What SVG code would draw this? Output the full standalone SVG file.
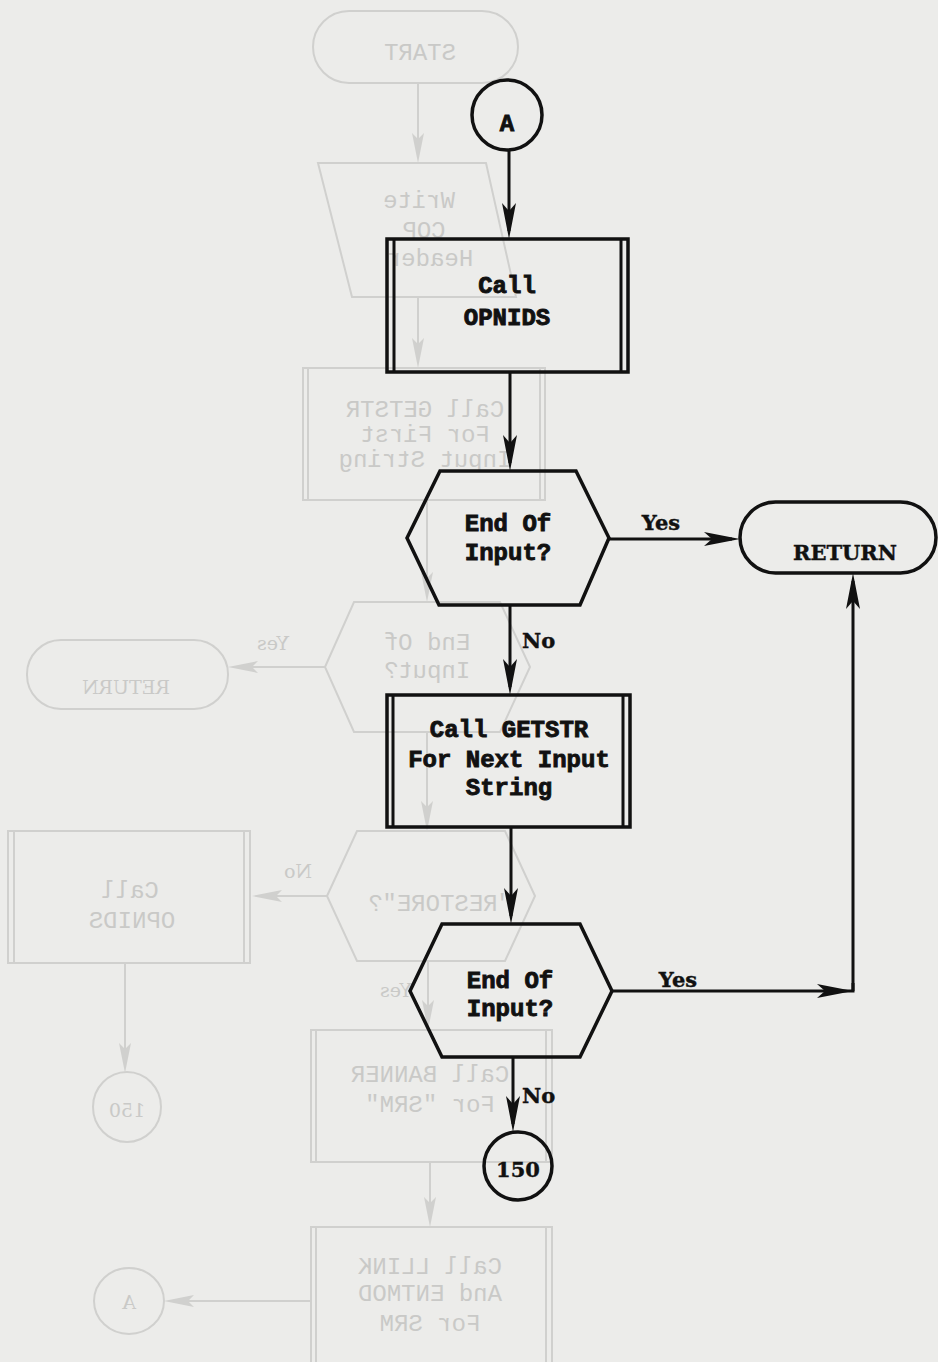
<svg xmlns="http://www.w3.org/2000/svg" width="938" height="1362" viewBox="0 0 938 1362">
<style>
.bg{fill:#ececea}
.sh{fill:none;stroke:#111;stroke-width:3.5;stroke-linejoin:miter}
.ln{fill:none;stroke:#111;stroke-width:3}
.tt{font-family:"Liberation Mono","DejaVu Sans Mono",monospace;font-size:24px;font-weight:bold;fill:#111;stroke:#111;stroke-width:0.9;text-anchor:middle}
.lb{font-family:"DejaVu Serif","Liberation Serif",serif;font-size:21px;font-weight:bold;fill:#111;stroke:#111;stroke-width:0.4}
.gs{fill:none;stroke:#d0d0ce;stroke-width:2}
.gt{font-family:"Liberation Mono","DejaVu Sans Mono",monospace;font-size:24px;fill:#c9c9c7;text-anchor:middle}
.gl{font-family:"DejaVu Serif","Liberation Serif",serif;font-size:19px;fill:#c9c9c7;text-anchor:middle}
</style>
<defs>
<marker id="arr" viewBox="-30 -8 40 16" markerWidth="40" markerHeight="16" refX="0" refY="0" orient="auto" markerUnits="userSpaceOnUse">
<path d="M8,0 L-28,-7 L-20,0 L-28,7 Z" fill="#111"/>
</marker>
<marker id="garr" viewBox="-30 -8 40 16" markerWidth="40" markerHeight="16" refX="0" refY="0" orient="auto" markerUnits="userSpaceOnUse">
<path d="M8,0 L-22,-6 L-16,0 L-22,6 Z" fill="#d0d0ce"/>
</marker>
</defs>
<rect class="bg" x="0" y="0" width="938" height="1362"/>

<g id="bleed-through">
<rect class="gs" x="313" y="11" width="205" height="72" rx="36"/>
<text class="gt" x="420" y="60" transform="matrix(-1 0 0 1 840 0)">START</text>
<line class="gs" x1="418" y1="83" x2="418" y2="155" marker-end="url(#garr)"/>
<polygon class="gs" points="318,163 486,163 516,297 352,297"/>
<text class="gt" x="419" y="208" transform="matrix(-1 0 0 1 838 0)">Write</text>
<text class="gt" x="424" y="238" transform="matrix(-1 0 0 1 848 0)">COP</text>
<text class="gt" x="430" y="266" transform="matrix(-1 0 0 1 860 0)">Header</text>
<line class="gs" x1="418" y1="297" x2="418" y2="360" marker-end="url(#garr)"/>
<rect class="gs" x="303" y="368" width="242" height="132"/>
<line class="gs" x1="308" y1="368" x2="308" y2="500"/>
<line class="gs" x1="540" y1="368" x2="540" y2="500"/>
<text class="gt" x="425" y="417" transform="matrix(-1 0 0 1 850 0)">Call GETSTR</text>
<text class="gt" x="425" y="442" transform="matrix(-1 0 0 1 850 0)">For First</text>
<text class="gt" x="425" y="467" transform="matrix(-1 0 0 1 850 0)">Input String</text>
<line class="gs" x1="427" y1="500" x2="427" y2="594" marker-end="url(#garr)"/>
<polygon class="gs" points="325,667 354,602 500,602 530,667 500,732 354,732"/>
<text class="gt" x="427" y="650" transform="matrix(-1 0 0 1 854 0)">End Of</text>
<text class="gt" x="427" y="678" transform="matrix(-1 0 0 1 854 0)">Input?</text>
<line class="gs" x1="325" y1="667" x2="236" y2="667" marker-end="url(#garr)"/>
<text class="gl" x="273" y="650" transform="matrix(-1 0 0 1 546 0)">Yes</text>
<rect class="gs" x="27" y="640" width="201" height="69" rx="34"/>
<text class="gl" x="126" y="694" transform="matrix(-1 0 0 1 252 0)">RETURN</text>
<line class="gs" x1="427" y1="732" x2="427" y2="823" marker-end="url(#garr)"/>
<polygon class="gs" points="327,896 357,831 505,831 535,896 505,961 357,961"/>
<text class="gt" x="440" y="911" transform="matrix(-1 0 0 1 880 0)">"RESTORE"?</text>
<line class="gs" x1="327" y1="896" x2="260" y2="896" marker-end="url(#garr)"/>
<text class="gl" x="298" y="878" transform="matrix(-1 0 0 1 596 0)">No</text>
<rect class="gs" x="8" y="831" width="242" height="132"/>
<line class="gs" x1="14" y1="831" x2="14" y2="963"/>
<line class="gs" x1="244" y1="831" x2="244" y2="963"/>
<text class="gt" x="130" y="898" transform="matrix(-1 0 0 1 260 0)">Call</text>
<text class="gt" x="132" y="928" transform="matrix(-1 0 0 1 264 0)">OPNIDS</text>
<line class="gs" x1="125" y1="963" x2="125" y2="1065" marker-end="url(#garr)"/>
<ellipse class="gs" cx="127" cy="1107" rx="34" ry="35"/>
<text class="gl" x="127" y="1117" transform="matrix(-1 0 0 1 254 0)">150</text>
<line class="gs" x1="428" y1="961" x2="428" y2="1022" marker-end="url(#garr)"/>
<text class="gl" x="396" y="997" transform="matrix(-1 0 0 1 792 0)">Yes</text>
<rect class="gs" x="311" y="1030" width="241" height="132"/>
<line class="gs" x1="316" y1="1030" x2="316" y2="1162"/>
<line class="gs" x1="546" y1="1030" x2="546" y2="1162"/>
<text class="gt" x="430" y="1082" transform="matrix(-1 0 0 1 860 0)">Call BANNER</text>
<text class="gt" x="430" y="1112" transform="matrix(-1 0 0 1 860 0)">For "SRM"</text>
<line class="gs" x1="430" y1="1162" x2="430" y2="1219" marker-end="url(#garr)"/>
<rect class="gs" x="311" y="1227" width="241" height="145"/>
<line class="gs" x1="316" y1="1227" x2="316" y2="1362"/>
<line class="gs" x1="546" y1="1227" x2="546" y2="1362"/>
<text class="gt" x="430" y="1274" transform="matrix(-1 0 0 1 860 0)">Call LLINK</text>
<text class="gt" x="430" y="1301" transform="matrix(-1 0 0 1 860 0)">And ENTMOD</text>
<text class="gt" x="430" y="1331" transform="matrix(-1 0 0 1 860 0)">For SRM</text>
<line class="gs" x1="311" y1="1301" x2="172" y2="1301" marker-end="url(#garr)"/>
<ellipse class="gs" cx="129" cy="1301" rx="35" ry="33"/>
<text class="gl" x="129" y="1309" transform="matrix(-1 0 0 1 258 0)">A</text>
</g>

<g id="connectors">
<line class="ln" x1="509" y1="151" x2="509" y2="231" marker-end="url(#arr)"/>
<line class="ln" x1="510" y1="372" x2="510" y2="463" marker-end="url(#arr)"/>
<line class="ln" x1="609" y1="539" x2="732" y2="539" marker-end="url(#arr)"/>
<text class="lb" x="661" y="530" text-anchor="middle">Yes</text>
<line class="ln" x1="510" y1="605" x2="510" y2="687" marker-end="url(#arr)"/>
<text class="lb" x="522" y="648">No</text>
<line class="ln" x1="511" y1="827" x2="511" y2="916" marker-end="url(#arr)"/>
<line class="ln" x1="612" y1="991" x2="845" y2="991" marker-end="url(#arr)"/>
<polyline class="ln" points="845,991 853,991 853,983"/>
<line class="ln" x1="853" y1="991" x2="853" y2="581" marker-end="url(#arr)"/>
<text class="lb" x="678" y="987" text-anchor="middle">Yes</text>
<line class="ln" x1="513" y1="1057" x2="513" y2="1124" marker-end="url(#arr)"/>
<text class="lb" x="522" y="1103">No</text>
</g>

<g id="node-A">
<circle class="sh" cx="507" cy="115" r="35"/>
<text class="tt" x="507" y="131">A</text>
</g>

<g id="node-call-opnids">
<rect class="sh" x="387" y="239" width="241" height="133"/>
<line class="ln" x1="394" y1="239" x2="394" y2="372"/>
<line class="ln" x1="621" y1="239" x2="621" y2="372"/>
<text class="tt" x="507" y="293">Call</text>
<text class="tt" x="507" y="325">OPNIDS</text>
</g>

<g id="node-end-of-input-1">
<polygon class="sh" points="407,538 440,471 576,471 609,538 580,605 439,605"/>
<text class="tt" x="508" y="531">End Of</text>
<text class="tt" x="508" y="560">Input?</text>
</g>

<g id="node-return">
<rect class="sh" x="740" y="502" width="196" height="71" rx="35.5"/>
<text class="lb" x="845" y="560" text-anchor="middle" font-size="22">RETURN</text>
</g>

<g id="node-call-getstr">
<rect class="sh" x="387" y="695" width="243" height="132"/>
<line class="ln" x1="393" y1="695" x2="393" y2="827"/>
<line class="ln" x1="623" y1="695" x2="623" y2="827"/>
<text class="tt" x="509" y="737">Call GETSTR</text>
<text class="tt" x="509" y="767">For Next Input</text>
<text class="tt" x="509" y="795">String</text>
</g>

<g id="node-end-of-input-2">
<polygon class="sh" points="410,991 442,924 580,924 612,991 580,1057 442,1057"/>
<text class="tt" x="510" y="988">End Of</text>
<text class="tt" x="510" y="1016">Input?</text>
</g>

<g id="node-150">
<circle class="sh" cx="518" cy="1166" r="34"/>
<text class="lb" x="518" y="1177" text-anchor="middle" font-size="22">150</text>
</g>
</svg>
